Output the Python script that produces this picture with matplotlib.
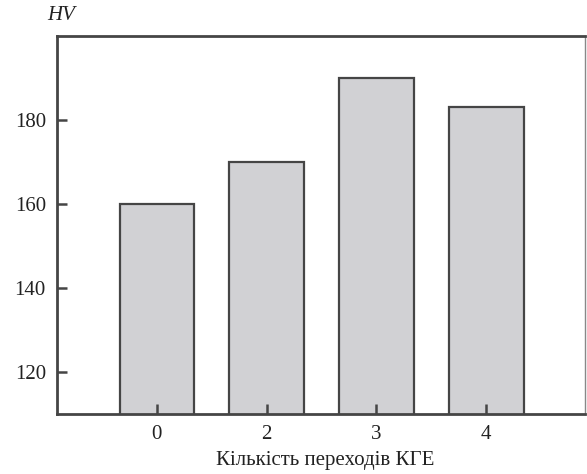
import matplotlib
matplotlib.use("Agg")
import matplotlib.pyplot as plt

categories = ["0", "2", "3", "4"]
hv_values = [160, 170, 190, 183]
y_ticks = [120, 140, 160, 180]

plt.rcParams['font.family'] = ['Liberation Serif', 'DejaVu Serif']

fig = plt.figure(figsize=(5.87, 4.74), dpi=100)
ax = fig.add_axes([57/587, 1-414/474, (585-57)/587, (414-36)/474])

dark = "#454545"
x = list(range(len(categories)))
ax.bar(x, hv_values, width=0.68, color="#d1d1d4", edgecolor=dark, linewidth=1.6, zorder=2)

ax.set_xlim(-0.91, 3.9)
ax.set_ylim(110, 200)
ax.set_xticks(x)
ax.set_xticklabels(categories)
ax.set_yticks(y_ticks)

for s in ["left", "top", "bottom"]:
    ax.spines[s].set_linewidth(2.0)
    ax.spines[s].set_color(dark)
ax.spines["right"].set_linewidth(1.0)
ax.spines["right"].set_color("#888888")

ax.tick_params(axis="both", direction="in", length=7, width=1.8, color=dark,
               labelsize=15, labelcolor="#222222", pad=8)
ax.tick_params(axis="y", right=False)
ax.tick_params(axis="x", top=False)
ax.set_axisbelow(False)

fig.text(325/587, 1-460/474, "Кількість переходів КГЕ", ha="center", va="center",
         fontsize=15, color="#222222")
fig.text(61/587, 1-15/474, "HV", ha="center", va="center", fontsize=15,
         style="italic", color="#222222")

fig.savefig("out.png", dpi=100)
